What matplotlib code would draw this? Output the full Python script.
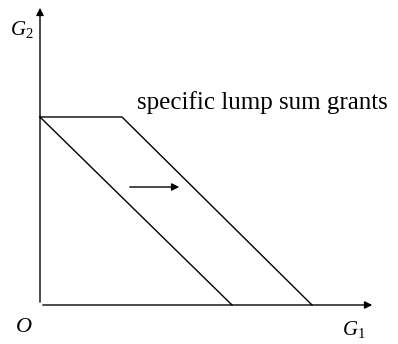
import matplotlib
matplotlib.use("Agg")
import matplotlib.pyplot as plt

plt.rcParams['font.family'] = ['Liberation Serif', 'DejaVu Serif']
plt.rcParams['mathtext.fontset'] = 'custom'
plt.rcParams['mathtext.rm'] = 'Liberation Serif'
plt.rcParams['mathtext.it'] = 'Liberation Serif:italic'

# budget lines (G1, G2)
before_g1 = [0, 19.2]
before_g2 = [18.8, 0]
after_g1 = [0, 8.2, 27.2]
after_g2 = [18.8, 18.8, 0]

# shift arrow
shift_from = (8.7, 11.8)
shift_to = (14.2, 11.8)

x_max = 33.5
y_max = 30.0

fig = plt.figure(figsize=(3.98, 3.44), dpi=100)
ax = fig.add_axes([0, 0, 1, 1])
ax.set_xlim(-4.0, 35.8)
ax.set_ylim(-3.9, 30.5)
ax.axis('off')

# axes with arrows
ax.annotate('', xy=(x_max, 0), xytext=(0, 0),
            arrowprops=dict(arrowstyle='-|>', color='black', lw=1.0, mutation_scale=11))
ax.annotate('', xy=(0, y_max), xytext=(0, 0),
            arrowprops=dict(arrowstyle='-|>', color='black', lw=1.0, mutation_scale=11))

ax.plot(before_g1, before_g2, color='black', lw=1.0)
ax.plot(after_g1, after_g2, color='black', lw=1.0)

ax.annotate('', xy=shift_to, xytext=shift_from,
            arrowprops=dict(arrowstyle='-|>', color='black', lw=1.0, mutation_scale=11))

ax.text(9.7, 20.2, 'specific lump sum grants', fontsize=18, va='center', ha='left')
ax.text(-1.8, 27.5, '$G_2$', fontsize=15, ha='center', va='center')
ax.text(-1.6, -2.2, '$O$', fontsize=16, ha='center', va='center')
ax.text(31.4, -2.5, '$G_1$', fontsize=15, ha='center', va='center')

fig.savefig('out.png', dpi=100)
